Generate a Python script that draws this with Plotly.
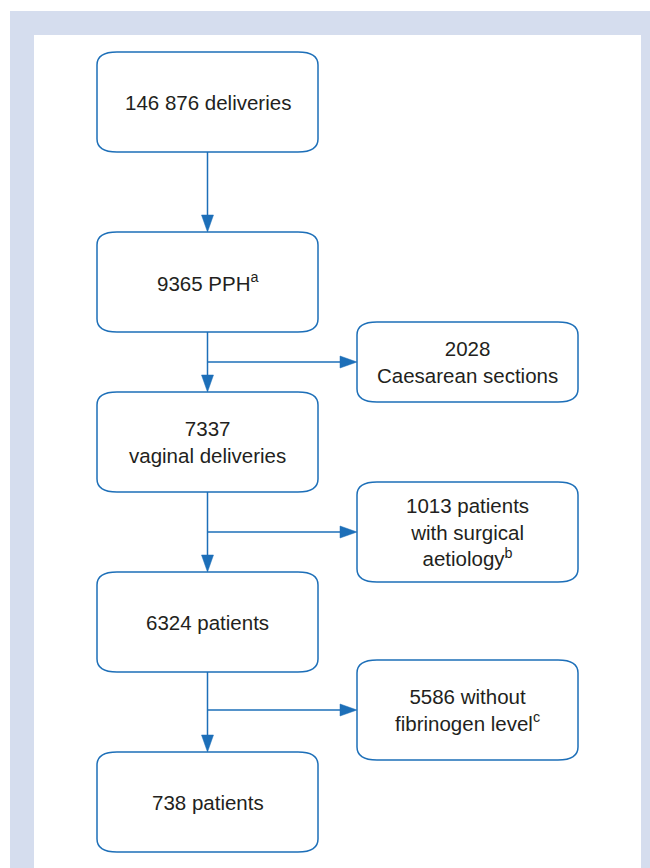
import plotly.graph_objects as go

# ---- data ----
main_counts = ["146 876", "9365", "7337", "6324", "738"]
main_labels = ["{} deliveries", "{} PPH<sup>a</sup>", "{}<br>vaginal deliveries", "{} patients", "{} patients"]
excl_counts = ["2028", "1013", "5586"]
excl_labels = ["{}<br>Caesarean sections", "{} patients<br>with surgical<br>aetiology<sup>b</sup>",
               "{} without<br>fibrinogen level<sup>c</sup>"]

# ---- layout geometry ----
W, H = 650, 868
main_x0, main_x1 = 97, 318
main_tops = [52, 232, 392, 572, 752]
main_h = 100
side_x0, side_x1 = 357, 578
side_boxes = [(322, 402), (482, 582), (660, 760)]
rx, ry = 20, 13
blue = "#1d6fb8"
txt = "#231f20"
frame = "#d5ddee"

def rounded(x0, y0, x1, y1):
    return (f"M {x0+rx},{y0} L {x1-rx},{y0} Q {x1},{y0} {x1},{y0+ry} "
            f"L {x1},{y1-ry} Q {x1},{y1} {x1-rx},{y1} L {x0+rx},{y1} "
            f"Q {x0},{y1} {x0},{y1-ry} L {x0},{y0+ry} Q {x0},{y0} {x0+rx},{y0} Z")

shapes = []
annotations = []
# frame
shapes.append(dict(type="rect", x0=10, x1=W, y0=11, y1=H, fillcolor=frame, line=dict(width=0), layer="below"))
shapes.append(dict(type="rect", x0=34, x1=641, y0=35, y1=H, fillcolor="white", line=dict(width=0), layer="below"))

font = dict(family="Liberation Sans, Arial, sans-serif", size=20.5, color=txt)

for i, (c, lab) in enumerate(zip(main_counts, main_labels)):
    y0 = main_tops[i]; y1 = y0 + main_h
    shapes.append(dict(type="path", path=rounded(main_x0, y0, main_x1, y1),
                       line=dict(color=blue, width=1.5), fillcolor="rgba(0,0,0,0)"))
    annotations.append(dict(x=(main_x0 + main_x1) / 2, y=(y0 + y1) / 2, text=lab.format(c),
                            showarrow=False, font=font, xanchor="center", yanchor="middle"))

for (y0, y1), c, lab in zip(side_boxes, excl_counts, excl_labels):
    shapes.append(dict(type="path", path=rounded(side_x0, y0, side_x1, y1),
                       line=dict(color=blue, width=1.5), fillcolor="rgba(0,0,0,0)"))
    annotations.append(dict(x=(side_x0 + side_x1) / 2, y=(y0 + y1) / 2, text=lab.format(c),
                            showarrow=False, font=font, xanchor="center", yanchor="middle"))

ax = 207.5
hl, hw = 17, 6
for i in range(len(main_tops) - 1):
    ys = main_tops[i] + main_h
    ye = main_tops[i + 1]
    shapes.append(dict(type="line", x0=ax, x1=ax, y0=ys, y1=ye - hl + 2, line=dict(color=blue, width=1.5)))
    shapes.append(dict(type="path", path=f"M {ax-hw},{ye-hl} L {ax+hw},{ye-hl} L {ax},{ye} Z",
                       fillcolor=blue, line=dict(color=blue, width=0.5)))

for (y0, y1) in side_boxes:
    yc = (y0 + y1) / 2
    shapes.append(dict(type="line", x0=ax, x1=side_x0 - hl + 2, y0=yc, y1=yc, line=dict(color=blue, width=1.5)))
    shapes.append(dict(type="path", path=f"M {side_x0-hl},{yc-hw} L {side_x0-hl},{yc+hw} L {side_x0},{yc} Z",
                       fillcolor=blue, line=dict(color=blue, width=0.5)))

fig = go.Figure()
fig.update_layout(
    width=W, height=H, margin=dict(l=0, r=0, t=0, b=0),
    paper_bgcolor="white", plot_bgcolor="white",
    xaxis=dict(range=[0, W], visible=False, fixedrange=True),
    yaxis=dict(range=[H, 0], visible=False, fixedrange=True),
    shapes=shapes, annotations=annotations, showlegend=False,
)
fig.write_html("out.html", config=dict(displayModeBar=False),
               post_script="document.body.style.margin='0';document.body.style.overflow='hidden';")
